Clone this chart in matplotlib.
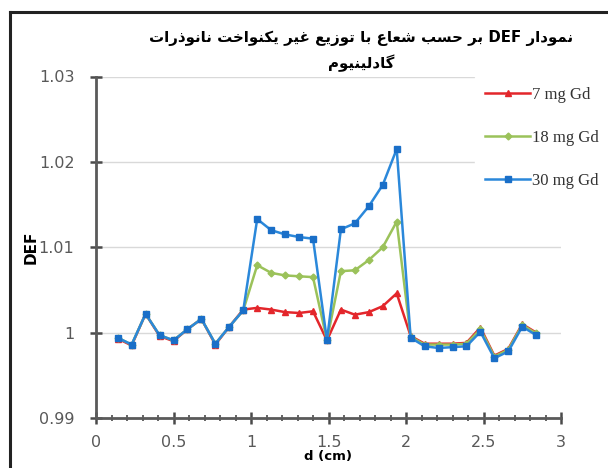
import matplotlib
matplotlib.use("Agg")
import matplotlib.pyplot as plt
from matplotlib.lines import Line2D

# distance from centre (cm)
d_cm = [0.14, 0.23, 0.32, 0.41, 0.50, 0.59, 0.68, 0.77, 0.86, 0.95,
        1.04, 1.13, 1.22, 1.31, 1.40, 1.49, 1.58, 1.67, 1.76, 1.85,
        1.94, 2.03, 2.12, 2.21, 2.30, 2.39, 2.48, 2.57, 2.66, 2.75, 2.84]

def_7mg = [0.9993, 0.9985, 1.0022, 0.9996, 0.9990, 1.0004, 1.0016, 0.9986, 1.0007, 1.0027,
           1.0029, 1.0027, 1.0024, 1.0023, 1.0025, 0.9991, 1.0027, 1.0021, 1.0024, 1.0031,
           1.0046, 0.9996, 0.9987, 0.9987, 0.9987, 0.9988, 1.0006, 0.9973, 0.9981, 1.0010, 1.0000]

def_18mg = [0.9994, 0.9986, 1.0022, 0.9997, 0.9991, 1.0004, 1.0016, 0.9987, 1.0007, 1.0026,
            1.0079, 1.0070, 1.0067, 1.0066, 1.0065, 0.9991, 1.0072, 1.0073, 1.0085, 1.0100,
            1.0130, 0.9995, 0.9986, 0.9986, 0.9986, 0.9987, 1.0004, 0.9972, 0.9980, 1.0009, 0.9999]

def_30mg = [0.9994, 0.9986, 1.0022, 0.9997, 0.9991, 1.0004, 1.0016, 0.9987, 1.0007, 1.0026,
            1.0133, 1.0120, 1.0115, 1.0112, 1.0110, 0.9991, 1.0121, 1.0128, 1.0148, 1.0173,
            1.0215, 0.9994, 0.9984, 0.9982, 0.9983, 0.9984, 1.0001, 0.9970, 0.9978, 1.0007, 0.9997]

series_labels = ["7 mg Gd", "18 mg Gd", "30 mg Gd"]
y_ticks = [0.99, 1.0, 1.01, 1.02, 1.03]
y_ticklabels = ["0.99", "1", "1.01", "1.02", "1.03"]
x_ticks = [0, 0.5, 1, 1.5, 2, 2.5, 3]
x_ticklabels = ["0", "0.5", "1", "1.5", "2", "2.5", "3"]

title_1 = "نمودار DEF بر حسب شعاع با توزیع غیر یکنواخت نانوذرات"
title_2 = "گادلینیوم"

# --- minimal persian shaping (matplotlib has no complex text layout) ---
FORMS = {
    'ا': (0xFE8D, 0xFE8E, None, None), 'آ': (0xFE81, 0xFE82, None, None),
    'ب': (0xFE8F, 0xFE90, 0xFE91, 0xFE92), 'پ': (0xFB56, 0xFB57, 0xFB58, 0xFB59),
    'ت': (0xFE95, 0xFE96, 0xFE97, 0xFE98), 'ث': (0xFE99, 0xFE9A, 0xFE9B, 0xFE9C),
    'ج': (0xFE9D, 0xFE9E, 0xFE9F, 0xFEA0), 'ح': (0xFEA1, 0xFEA2, 0xFEA3, 0xFEA4),
    'خ': (0xFEA5, 0xFEA6, 0xFEA7, 0xFEA8), 'د': (0xFEA9, 0xFEAA, None, None),
    'ذ': (0xFEAB, 0xFEAC, None, None), 'ر': (0xFEAD, 0xFEAE, None, None),
    'ز': (0xFEAF, 0xFEB0, None, None), 'ژ': (0xFB8A, 0xFB8B, None, None),
    'س': (0xFEB1, 0xFEB2, 0xFEB3, 0xFEB4), 'ش': (0xFEB5, 0xFEB6, 0xFEB7, 0xFEB8),
    'ع': (0xFEC9, 0xFECA, 0xFECB, 0xFECC), 'غ': (0xFECD, 0xFECE, 0xFECF, 0xFED0),
    'ف': (0xFED1, 0xFED2, 0xFED3, 0xFED4), 'ک': (0xFB8E, 0xFB8F, 0xFB90, 0xFB91),
    'گ': (0xFB92, 0xFB93, 0xFB94, 0xFB95), 'ل': (0xFEDD, 0xFEDE, 0xFEDF, 0xFEE0),
    'م': (0xFEE1, 0xFEE2, 0xFEE3, 0xFEE4), 'ن': (0xFEE5, 0xFEE6, 0xFEE7, 0xFEE8),
    'ه': (0xFEE9, 0xFEEA, 0xFEEB, 0xFEEC), 'و': (0xFEED, 0xFEEE, None, None),
    'ی': (0xFBFC, 0xFBFD, 0xFBFE, 0xFBFF),
}

def shape_word(w):
    out = []
    for k, c in enumerate(w):
        if c not in FORMS:
            out.append(c)
            continue
        f = FORMS[c]
        prev_j = k > 0 and w[k - 1] in FORMS and FORMS[w[k - 1]][2] is not None
        next_j = k < len(w) - 1 and w[k + 1] in FORMS and f[2] is not None
        if prev_j and next_j:
            code = f[3]
        elif prev_j:
            code = f[1]
        elif next_j:
            code = f[2]
        else:
            code = f[0]
        out.append(chr(code))
    return "".join(out[::-1])

def rtl(line):
    words = []
    for w in line.split(" "):
        if any(c in FORMS for c in w):
            words.append(shape_word(w))
        else:
            words.append(w)
    return " ".join(words[::-1])

fig = plt.figure(figsize=(6.08, 4.68), dpi=100)
ax = fig.add_axes([96 / 608, 1 - 418 / 468, (561 - 96) / 608, (418 - 76.5) / 468])

ax.plot(d_cm, def_7mg, color="#e3262b", lw=1.8, marker="^", ms=5, label=series_labels[0])
ax.plot(d_cm, def_18mg, color="#9bc25a", lw=1.8, marker="D", ms=3.5, label=series_labels[1])
ax.plot(d_cm, def_30mg, color="#2b88da", lw=1.8, marker="s", ms=4.5,
        markerfacecolor="#1a6fc8", markeredgecolor="#1a6fc8", label=series_labels[2])

ax.set_xlim(0, 3)
ax.set_ylim(0.99, 1.03)
ax.set_yticks(y_ticks)
ax.set_yticklabels(y_ticklabels)
ax.set_xticks(x_ticks)
ax.set_xticklabels(x_ticklabels)
ax.set_xticks([i / 10 for i in range(31)], minor=True)
ax.yaxis.grid(True, color="#d9d9d9", lw=1)
ax.set_axisbelow(True)

for s in ["top", "right"]:
    ax.spines[s].set_visible(False)
for s in ["left", "bottom"]:
    ax.spines[s].set_color("#5a5a5a")
    ax.spines[s].set_linewidth(2)

ax.tick_params(axis="both", which="major", direction="inout", length=9, width=1.8,
               color="#4a4a4a", labelsize=11.5, labelcolor="#595959")
ax.tick_params(axis="x", which="major", pad=8)
ax.tick_params(axis="y", which="major", pad=11)
ax.tick_params(axis="x", which="minor", direction="inout", length=5, width=1.2, color="#4a4a4a")

ax.set_xlabel("d (cm)", fontsize=9.5, fontweight="bold", labelpad=0)
ax.set_ylabel("DEF", fontsize=11, fontweight="bold", labelpad=0)

leg = ax.legend(loc="upper left", bbox_to_anchor=(467 / 608, 1 - 69 / 468),
                bbox_transform=fig.transFigure, frameon=True, fancybox=False,
                edgecolor="white", facecolor="white", framealpha=1,
                handlelength=2.7, handletextpad=0.1, labelspacing=1.62,
                borderpad=0.6, prop={"family": "Liberation Serif", "size": 12})
for t in leg.get_texts():
    t.set_color("#333333")

fig.text(361 / 608, 1 - 38 / 468, rtl(title_1), ha="center", va="center",
         fontsize=10.8, fontweight="bold", family=["DejaVu Sans"])
fig.text(361 / 608, 1 - 63 / 468, rtl(title_2), ha="center", va="center",
         fontsize=10.8, fontweight="bold", family=["DejaVu Sans"])

# outer frame (top and left edges visible in the crop)
fig.add_artist(Line2D([10 / 608, 10 / 608], [0, 1 - 12 / 468], transform=fig.transFigure,
                      color="#222222", lw=2.2))
fig.add_artist(Line2D([10 / 608, 1], [1 - 12 / 468, 1 - 12 / 468], transform=fig.transFigure,
                      color="#222222", lw=2.2))

fig.savefig("out.png", dpi=100)
